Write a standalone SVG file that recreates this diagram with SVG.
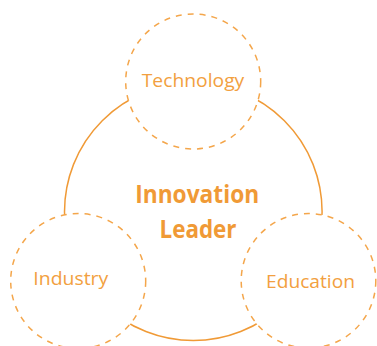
<svg xmlns="http://www.w3.org/2000/svg" width="377" height="346" viewBox="0 0 377 346">
<style>
.big{fill:none;stroke:#F09A36;stroke-width:1.5}
.node{fill:#fff;stroke:#F4A64B;stroke-width:1.5;stroke-dasharray:6 6}
.lbl{font-family:"Open Sans","Noto Sans",sans-serif;font-size:19px;fill:#F2A040;text-anchor:middle}
.ctr{font-family:"Open Sans","Noto Sans",sans-serif;font-size:25px;font-weight:bold;fill:#F09A36;text-anchor:middle}
</style>
<rect width="377" height="346" fill="#fff"/>
<g id="connectors">
<circle class="big" cx="193.3" cy="211.8" r="128.8"/>
</g>
<g id="center">
<text class="ctr" x="197.2" y="203.3" textLength="124" lengthAdjust="spacingAndGlyphs">Innovation</text>
<text class="ctr" x="198" y="237.7" textLength="77" lengthAdjust="spacingAndGlyphs">Leader</text>
</g>
<g id="technology">
<circle class="node" cx="193.2" cy="81.5" r="67.5"/>
<text class="lbl" x="193" y="86.7" textLength="102.6" lengthAdjust="spacingAndGlyphs">Technology</text>
</g>
<g id="industry">
<circle class="node" cx="78.2" cy="281" r="67.5"/>
<text class="lbl" x="70.8" y="285" textLength="75" lengthAdjust="spacingAndGlyphs">Industry</text>
</g>
<g id="education">
<circle class="node" cx="308.5" cy="280.8" r="67.3"/>
<text class="lbl" x="310.5" y="287.7" textLength="89" lengthAdjust="spacingAndGlyphs">Education</text>
</g>
</svg>
